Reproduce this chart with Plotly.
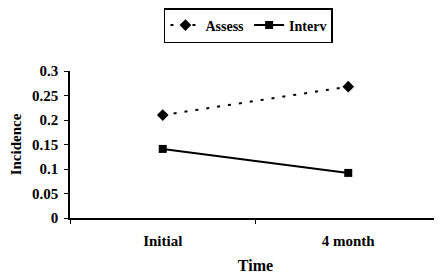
import plotly.graph_objects as go

categories = ["Initial", "4 month"]
assess = [0.21, 0.268]
interv = [0.141, 0.092]
y_ticks = [0, 0.05, 0.1, 0.15, 0.2, 0.25, 0.3]
y_ticklabels = ["0", "0.05", "0.1", "0.15", "0.2", "0.25", "0.3"]

FONT = "Liberation Serif, Times New Roman, serif"

fig = go.Figure()
fig.add_trace(go.Scatter(
    x=categories, y=assess, name="Assess", mode="lines+markers",
    line=dict(color="black", width=2, dash="3px,8px"),
    marker=dict(symbol="diamond", size=9, color="black"),
))
fig.add_trace(go.Scatter(
    x=categories, y=interv, name="Interv", mode="lines+markers",
    line=dict(color="black", width=2),
    marker=dict(symbol="square", size=8, color="black"),
))

# the page body has an 8px default margin, so layout is offset by -8px
fig.update_layout(
    width=442, height=276,
    margin=dict(l=62, r=9, t=63, b=66, autoexpand=False),
    paper_bgcolor="white", plot_bgcolor="white",
    font=dict(family=FONT, size=14, color="black", weight="bold"),
    showlegend=True,
    legend=dict(
        orientation="h", xref="container", yref="container",
        x=0.544, xanchor="center", y=1.0, yanchor="top",
        bordercolor="black", borderwidth=1.5,
        font=dict(family=FONT, size=14, color="black", weight="bold"),
        itemwidth=30, tracegroupgap=0,
    ),
    xaxis=dict(
        type="category", tickson="boundaries", range=[-0.5, 1.5],
        showline=True, linecolor="black", linewidth=1.5,
        ticks="outside", ticklen=4, tickcolor="black",
        ticklabelstandoff=8,
        showgrid=False, zeroline=False,
        title=dict(text="Time", font=dict(family=FONT, size=16, weight="bold"), standoff=12),
        tickfont=dict(family=FONT, size=15, weight="bold"),
    ),
    yaxis=dict(
        range=[0, 0.3], tickvals=y_ticks, ticktext=y_ticklabels,
        showline=True, linecolor="black", linewidth=1.5,
        ticks="outside", ticklen=4, tickcolor="black",
        ticklabelstandoff=3,
        showgrid=False, zeroline=False,
        title=dict(text="Incidence", font=dict(family=FONT, size=15, weight="bold"), standoff=16),
        tickfont=dict(family=FONT, size=15, weight="bold"),
    ),
)

fig.write_html("out.html")
